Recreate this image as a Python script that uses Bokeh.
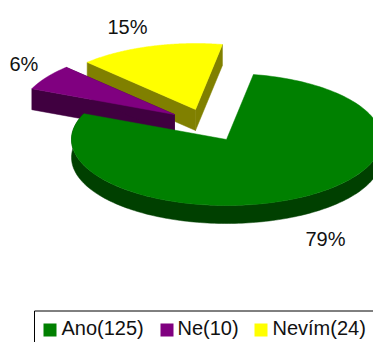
import numpy as np
from bokeh.core.properties import value
from bokeh.embed import file_html
from bokeh.models import Range1d
from bokeh.plotting import figure
from bokeh.resources import INLINE

categories = ["Ano", "Ne", "Nevím"]
counts = [125, 10, 24]
percent_labels = ["79%", "6%", "15%"]
top_colors = ["#008000", "#800080", "#FFFF00"]
wall_colors = ["#004000", "#400040", "#808000"]

# Page-pixel layout of the tilted pie
START_ANGLE = 10
RX, RY, DEPTH = 155, 66, 18
APEX = [(226, 139), (174, 114), (195, 109)]
LABEL_POS = [(305, 238), (9, 63), (107, 26)]
LEGEND_SWATCH_X = [43, 160, 254]
LEGEND_TEXT_X = [61, 177, 272]

p = figure(width=373, height=342, output_backend="svg", toolbar_location=None,
           x_range=Range1d(0, 373), y_range=Range1d(342, 0),
           min_border=0, outline_line_color=None, background_fill_color="white")
p.axis.visible = False
p.grid.visible = False


def rim(cx, cy, a0, a1):
    t = np.radians(np.linspace(a0, a1, 160))
    return cx + RX * np.sin(t), cy - RY * np.cos(t)


# Slice angles run clockwise from twelve o'clock
total = sum(counts)
edges = START_ANGLE + np.cumsum([0] + counts) / total * 360
order = [2, 1, 0]  # far slices first so the large one overlaps them

for i in order:
    cx, cy = APEX[i]
    a0, a1 = edges[i], edges[i + 1]
    xs, ys = rim(cx, cy, a0, a1)

    if i == 0:
        # Outer wall along the near part of the rim
        wx, wy = rim(cx, cy, 90, a1)
        keep = wy >= cy - 30
        wx, wy = wx[keep], wy[keep]
        p.patch(np.r_[wx, wx[::-1]], np.r_[wy, wy[::-1] + DEPTH],
                fill_color=wall_colors[i], line_color=wall_colors[i], line_width=0.5)
    else:
        # Cut faces that meet at the apex
        for ex, ey in ((xs[0], ys[0]), (xs[-1], ys[-1])):
            p.patch([cx, ex, ex, cx], [cy, ey, ey + DEPTH + 3, cy + DEPTH + 3],
                    fill_color=wall_colors[i], line_color=wall_colors[i], line_width=0.5)

    p.patch(np.r_[cx, xs], np.r_[cy, ys], fill_color=top_colors[i],
            line_color=top_colors[i], line_width=0.5)

# Percentage labels
p.text([q[0] for q in LABEL_POS], [q[1] for q in LABEL_POS], text=percent_labels,
       text_font=value("Liberation Sans"), text_font_size="20px",
       text_color="#111111", text_align="left", text_baseline="middle")

# Legend box and entries
p.line([34, 34, 373], [342, 310.5, 310.5], line_color="black", line_width=1)
legend_text = [f"{c}({n})" for c, n in zip(categories, counts)]
p.rect([x + 6.5 for x in LEGEND_SWATCH_X], [329.5] * 3, width=13, height=13,
       fill_color=top_colors, line_color=None)
p.text(LEGEND_TEXT_X, [327] * 3, text=legend_text,
       text_font=value("Liberation Sans"), text_font_size="20px",
       text_color="#111111", text_align="left", text_baseline="middle")

open("out.html", "w").write(file_html(p, INLINE))
